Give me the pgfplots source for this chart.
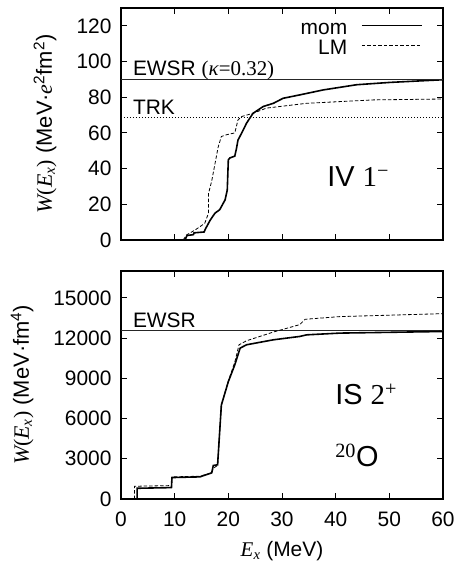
\documentclass[border=0pt]{standalone}
\usepackage{fontspec}
\setmainfont{Liberation Sans}
\newfontfamily\tms{Liberation Serif}
\usepackage{pgfplots}
\pgfplotsset{compat=1.18}
\begin{document}
\begin{tikzpicture}
\path[use as bounding box] (-121bp,-68bp) rectangle (335bp,499bp);
\pgfplotsset{
  common/.style={
    scale only axis,
    width=322bp,
    xmin=0, xmax=60,
    xtick={0,10,...,60},
    tick align=inside,
    major tick length=6bp,
    every tick/.style={black, line width=0.9bp},
    axis line style={line width=1.3bp},
    tick label style={font=\fontsize{21}{24}\selectfont},
    yticklabel style={xshift=-6bp},
    xticklabel style={yshift=-9bp},
    /pgf/number format/assume math mode=true,
    /pgf/number format/set thousands separator={},
    scaled y ticks=false,
    label style={font=\fontsize{22}{26}\selectfont},
    clip=true,
  },
  mom/.style={black, line width=1.6bp},
  lm/.style={black, line width=0.8bp, dash pattern=on 3.5bp off 2bp},
}
% bottom panel
\begin{axis}[common,
  at={(0,0)}, anchor=south west,
  height=228bp,
  ymin=0, ymax=17000,
  ytick={0,3000,...,15000},
  xlabel={{\tms\itshape E\textsubscript{x}} (MeV)},
  xlabel style={at={(axis description cs:0.5,0)}, anchor=center, yshift=-52bp, font=\fontsize{21}{24}\selectfont},
  ylabel={{\tms\itshape W}{\tms(}{\tms\itshape E\textsubscript{x}}{\tms)} (MeV·fm\textsuperscript{4})},
  ylabel style={at={(axis description cs:-0.307,0.5)}, anchor=center, rotate=0},
]
\addplot[black!85, line width=1bp] coordinates {(0,12600) (60,12600)};
\addplot[lm] coordinates {
(2.5,0)(2.5,950)(9.4,1000)(9.5,1650)(14.7,1700)(16.9,1950)(17.2,2300)(18,2500)
(18.7,7000)(20,8800)(21.2,10200)(22,11500)(23.4,11800)(28.4,12450)(33.3,13000)
(34.3,13400)(40.8,13600)(60,13820)};
\addplot[mom] coordinates {
(3,0)(3,800)(9.4,850)(9.5,1600)(14.7,1650)(16.9,1950)(17.2,2500)(18,2550)
(18.7,7000)(20,8750)(21.2,10000)(22.2,11250)(23.4,11500)(28.4,11870)(33.3,12120)
(34.6,12240)(40.8,12370)(60,12490)};
\node[anchor=base west, font=\fontsize{21}{24}\selectfont, inner sep=0pt] at (axis cs:2.2,12760) {EWSR};
\node[anchor=base west, font=\fontsize{29}{34}\selectfont, inner sep=0pt] at (axis cs:39.9,7015) {IS {\tms 2\textsuperscript{+}}};
\node[anchor=base west, font=\fontsize{29}{34}\selectfont, inner sep=0pt] at (axis cs:39.9,2390) {{\tms\textsuperscript{20}}O};
\end{axis}
% top panel
\begin{axis}[common,
  at={(0,259bp)}, anchor=south west,
  height=232bp,
  ymin=0, ymax=130,
  ytick={0,20,...,120},
  xticklabels={},
  ylabel={{\tms\itshape W}{\tms(}{\tms\itshape E\textsubscript{x}}{\tms)} (MeV·{\tms\itshape e}\textsuperscript{2}fm\textsuperscript{2})},
  ylabel style={at={(axis description cs:-0.236,0.5)}, anchor=center, rotate=0},
  legend style={draw=none, fill=none, at={(axis description cs:1,1)}, anchor=north east,
    xshift=-20bp, yshift=-11bp, inner sep=0pt, row sep=1bp,
    nodes={inner sep=0pt, text height=15bp, text depth=4bp},
    font=\fontsize{21}{22}\selectfont},
  legend cell align=right,
  legend plot pos=right,
  legend image code/.code={\path (0bp,0bp); \draw[#1] (14bp,3bp) -- (74bp,3bp);},
]
\addplot[mom] coordinates {
(11.6,0)(12,0.5)(12.3,2.5)(13.5,3)(13.6,4)(15.5,4.5)(15.7,6)(16.6,11)(17.5,15)
(18.4,17)(19.4,22.5)(19.8,28)(20,45)(20.3,46)(21.2,47)(21.5,51)(21.8,56)(22.5,60)
(23.4,65.5)(24.6,71)(26.5,74.8)(28.4,76.6)(30.2,79.4)(33.3,81.3)(37.7,84.1)
(43.9,87)(50.1,88.3)(60,89.8)};
\addlegendentry{mom}
\addplot[lm] coordinates {
(11.6,0)(12.2,2.8)(13.8,5.6)(15.6,9.3)(16.3,15)(16.3,26)(16.9,33)(18.1,52)
(18.7,58)(19.7,59)(21.2,60)(21.8,67.3)(22.5,69.2)(24.6,71)(27.1,73.9)(34.6,76.6)
(47,78.5)(60,79)};
\addlegendentry{LM}
\addplot[black!85, line width=1bp, forget plot] coordinates {(0,90) (60,90)};
\addplot[black, line width=1bp, dotted, forget plot] coordinates {(0,68.5) (60,68.5)};
\node[anchor=base west, font=\fontsize{21}{24}\selectfont, inner sep=0pt] at (axis cs:2.2,92) {EWSR {\tms (\textit{κ}=0.32)}};
\node[anchor=base west, font=\fontsize{21}{24}\selectfont, inner sep=0pt] at (axis cs:2.2,70.5) {TRK};
\node[anchor=base west, font=\fontsize{29}{34}\selectfont, inner sep=0pt] at (axis cs:38.4,29.7) {IV {\tms 1\textsuperscript{−}}};
\end{axis}
\end{tikzpicture}
\end{document}
